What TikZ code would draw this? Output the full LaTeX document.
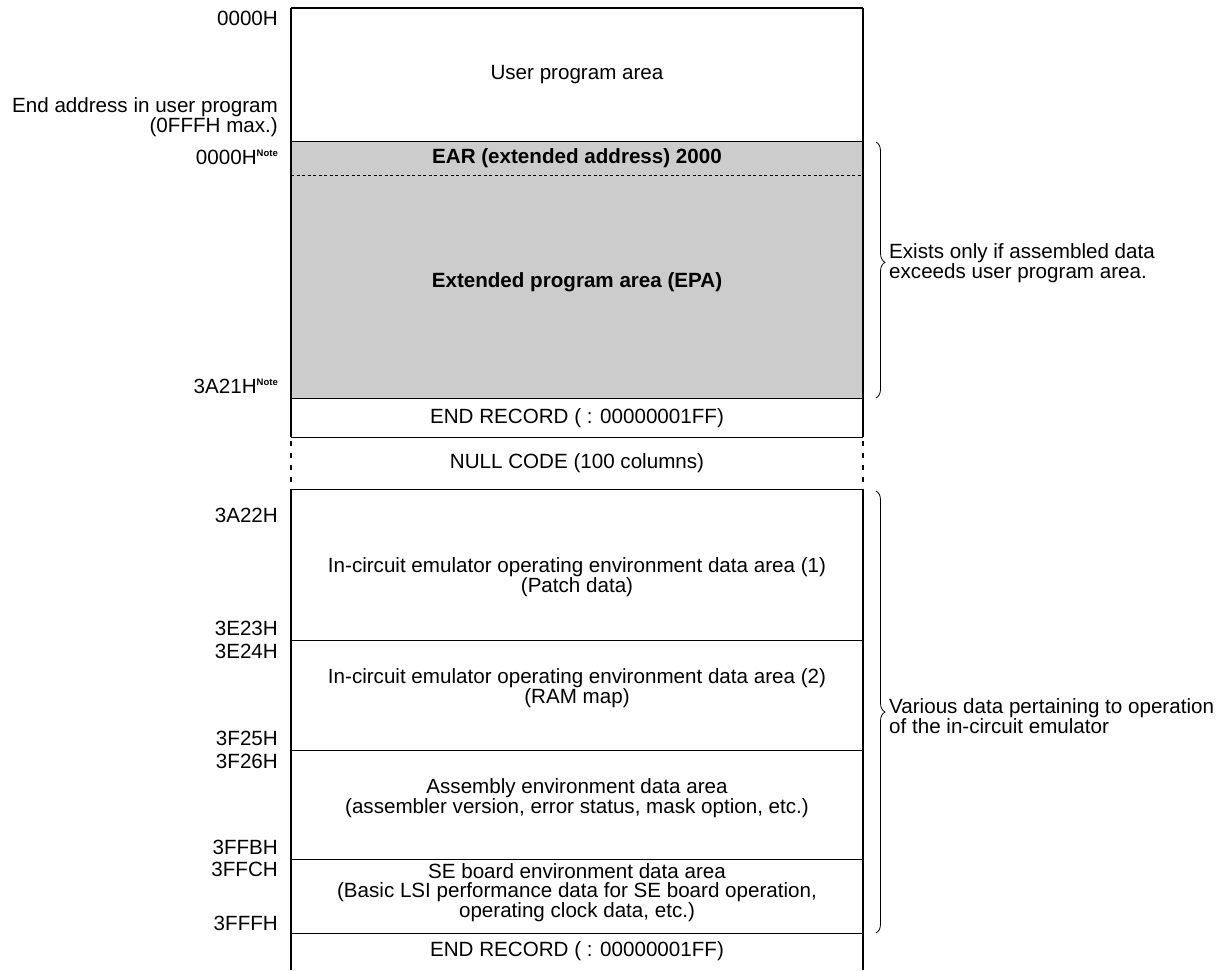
\documentclass[tikz,border=0pt]{standalone}
\usepackage{fontspec}
\setmainfont{Liberation Sans}
\usetikzlibrary{decorations.pathreplacing}
\definecolor{epagray}{RGB}{204,204,204}
\tikzset{
  frame/.style={line width=1.8pt},
  sep/.style={line width=0.9pt},
  txt/.style={align=center, inner sep=0pt},
  addr/.style={anchor=east, inner sep=0pt, align=right},
  side/.style={anchor=west, inner sep=0pt, align=left},
  bracedec/.style={decorate, decoration={brace, amplitude=9pt}, line width=0.8pt},
  nulldash/.style={line width=2pt, dash pattern=on 5pt off 7pt}
}
\newcommand{\notemark}{\raisebox{8pt}{\fontsize{9.5}{10}\selectfont\bfseries Note}}
\begin{document}
\begin{tikzpicture}[x=1pt, y=-1pt, font=\fontsize{20.6}{20.5}\selectfont]
\useasboundingbox (0,0) rectangle (1232,970);
% coordinates
\coordinate (TL) at (291,8);   \coordinate (TR) at (863,8);
\coordinate (U1) at (291,141); \coordinate (U2) at (863,141);
\coordinate (D1) at (291,175); \coordinate (D2) at (863,175);
\coordinate (E1) at (291,398); \coordinate (E2) at (863,398);
\coordinate (R1) at (291,437); \coordinate (R2) at (863,437);
\coordinate (N1) at (291,489); \coordinate (N2) at (863,489);
\coordinate (I1) at (291,640); \coordinate (I2) at (863,640);
\coordinate (J1) at (291,750); \coordinate (J2) at (863,750);
\coordinate (A1) at (291,859); \coordinate (A2) at (863,859);
\coordinate (S1) at (291,933); \coordinate (S2) at (863,933);
\coordinate (B1) at (291,970); \coordinate (B2) at (863,970);
% shaded EPA
\fill[epagray] (U1) rectangle (E2);
\draw[line width=0.7pt, dash pattern=on 3pt off 2.5pt] (D1) -- (D2);
% horizontal separators
\draw[frame] (TL) -- (TR);
\foreach \a/\b in {U1/U2,E1/E2,R1/R2,N1/N2,I1/I2,J1/J2,A1/A2,S1/S2}
  \draw[sep] (\a) -- (\b);
% sides
\draw[frame] (TL) -- (R1);
\draw[frame] (TR) -- (R2);
\draw[nulldash] ([yshift=-4pt]R1) -- (N1);
\draw[nulldash] ([yshift=-4pt]R2) -- (N2);
\draw[frame] (N1) -- (B1);
\draw[frame] (N2) -- (B2);
% box texts
\node[txt] (user) at (577,75) {User program area};
\node[txt] (ear) at (577,158) {\bfseries EAR (extended address) 2000};
\node[txt] (epa) at (577,282) {\bfseries Extended program area (EPA)};
\node[txt] (end1) at (577,418) {END RECORD ( : 00000001FF)};
\node[txt] (null) at (577,463) {NULL CODE (100 columns)};
\node[txt] (ice1) at (577,577) {In-circuit emulator operating environment data area (1)\\(Patch data)};
\node[txt] (ice2) at (577,688) {In-circuit emulator operating environment data area (2)\\(RAM map)};
\node[txt] (asm) at (577,798) {Assembly environment data area\\(assembler version, error status, mask option, etc.)};
\node[txt, font=\fontsize{20.6}{18.5}\selectfont] (se) at (577,893) {SE board environment data area\\(Basic LSI performance data for SE board operation,\\operating clock data, etc.)};
\node[txt] (end2) at (577,951) {END RECORD ( : 00000001FF)};
% address labels
\node[addr] (a0) at (278,18) {0000H};
\node[addr] (aend) at (278,117) {End address in user program\\(0FFFH max.)};
\node[addr] (a1) at (278,157) {0000H\notemark};
\node[addr] (a2) at (278,386) {3A21H\notemark};
\node[addr] (a3) at (278,515) {3A22H};
\node[addr] (a4) at (278,628) {3E23H};
\node[addr] (a5) at (278,651) {3E24H};
\node[addr] (a6) at (278,738) {3F25H};
\node[addr] (a7) at (278,761) {3F26H};
\node[addr] (a8) at (278,847) {3FFBH};
\node[addr] (a9) at (278,869) {3FFCH};
\node[addr] (a10) at (278,923) {3FFFH};
% braces
\coordinate (b1t) at (876,142); \coordinate (b1b) at (876,398);
\coordinate (b2t) at (876,491); \coordinate (b2b) at (876,933);
\draw[bracedec, decoration={aspect=0.47}] (b1t) -- (b1b);
\draw[bracedec] (b2t) -- (b2b);
\node[side] (s1) at (889,263) {Exists only if assembled data\\exceeds user program area.};
\node[side] (s2) at (889,716) {Various data pertaining to operation\\of the in-circuit emulator};
\end{tikzpicture}
\end{document}
